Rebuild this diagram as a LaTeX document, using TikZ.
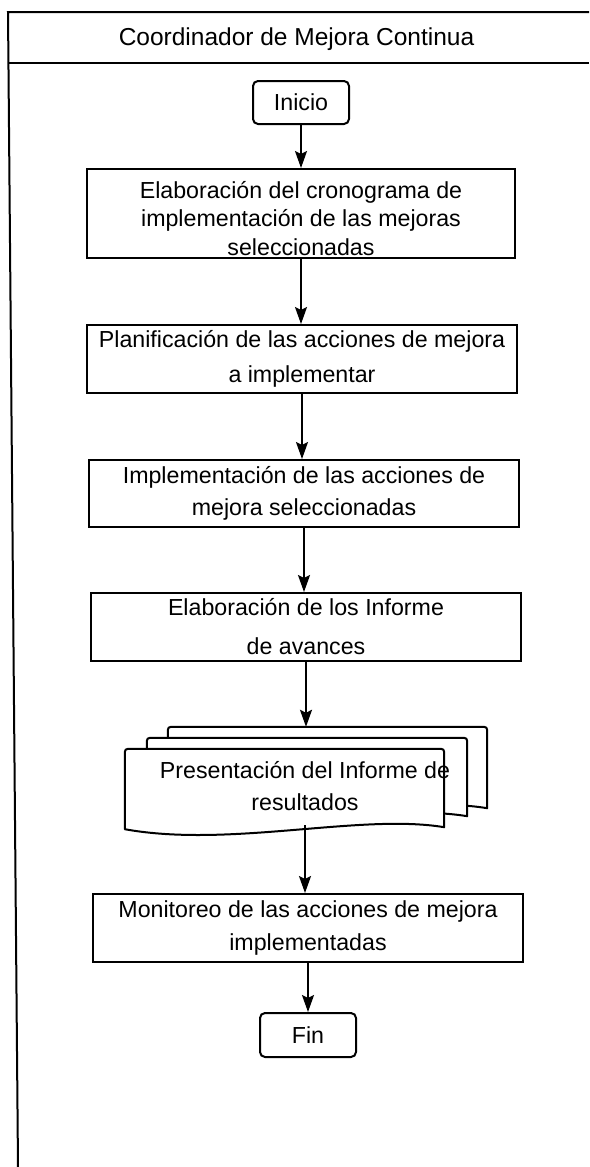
\documentclass[tikz,border=0pt]{standalone}
\usepackage{fontspec}
\setmainfont{Liberation Sans}
\usetikzlibrary{arrows.meta,calc}
\newcommand\docpage[1]{%
 \draw[page] ($(#1.south west)+(0,2)$) -- ($(#1.north west)+(0,7)$)
   .. controls (#1.north west) .. ($(#1.north west)+(7,0)$)
   -- ($(#1.north east)+(-7,0)$)
   .. controls (#1.north east) .. ($(#1.north east)+(0,7)$)
   -- (#1.south east)
   .. controls ($(#1.south east)+(-84,-14)$) and ($(#1.south west)+(105,21)$) .. ($(#1.south west)+(0,2)$)
   -- cycle;}
\begin{document}
\begin{tikzpicture}[x=1pt,y=-1pt,
  txt/.style={font=\fontsize{23.2}{28.5}\selectfont, align=center},
  box/.style={txt, draw, line width=2pt, inner sep=0pt},
  term/.style={box, rounded corners=5pt},
  arr/.style={line width=2pt, -{Stealth[length=17pt,width=12pt,inset=3pt]}},
  frame/.style={line width=2pt},
  page/.style={line width=2pt, fill=white, line join=round},
  pagebox/.style={inner sep=0pt, minimum width=#1}
]
\useasboundingbox (0,0) rectangle (589,1167);
% frame
\coordinate (ftl) at (8,12);
\coordinate (ftr) at (589,12);
\coordinate (fhl) at (8,63);
\coordinate (fhr) at (589,63);
\coordinate (fbl) at (18,1167);
\draw[frame] (ftr) -- (ftl) -- (fbl);
\draw[frame] (fhl) -- (fhr);
\node[font=\fontsize{24.5}{29}\selectfont] (title) at (296.5,39) {Coordinador de Mejora Continua};

% nodes
\node[term, minimum width=96pt, minimum height=43pt] (inicio) at (301,102.5) {Inicio};
\node[box, minimum width=428pt, minimum height=89pt] (b1) at (301,213.5)
  {\rule{0pt}{27pt}Elaboración del cronograma de\\implementación de las mejoras\\seleccionadas};
\node[box, minimum width=430pt, minimum height=68pt] (b2) at (302,359)
  {Planificación de las acciones de mejora\\[6pt]a implementar};
\node[box, minimum width=430pt, minimum height=67pt] (b3) at (304,493.5)
  {Implementación de las acciones de\\[3.5pt]mejora seleccionadas};
\node[box, minimum width=430pt, minimum height=68pt] (b4) at (306,627)
  {Elaboración de los Informe\\[10.5pt]de avances};

% multi-document
\node[pagebox=319pt, minimum height=81pt] (pback) at (327.5,767.5) {};
\node[pagebox=320pt, minimum height=78pt] (pmid) at (307,777) {};
\node[pagebox=319pt, minimum height=78pt] (pfront) at (284.5,788) {};
\docpage{pback}
\docpage{pmid}
\docpage{pfront}
\node[txt] (doctext) at (305,786) {Presentación del Informe de\\[3pt]resultados};
\coordinate (docout) at (305,825);

\node[box, minimum width=430pt, minimum height=68pt] (b5) at (308,928)
  {Monitoreo de las acciones de mejora\\[4.5pt]implementadas};
\node[term, minimum width=96pt, minimum height=44pt] (fin) at (308,1035) {Fin};

% connectors
\draw[arr] (inicio.south) -- (inicio.south |- b1.north);
\draw[arr] (b1.south) -- (b1.south |- b2.north);
\draw[arr] (b2.south) -- (b2.south |- b3.north);
\draw[arr] (b3.south) -- (b3.south |- b4.north);
\draw[arr] (b4.south) -- (b4.south |- pback.north);
\draw[arr] (docout) -- (docout |- b5.north);
\draw[arr] (b5.south) -- (b5.south |- fin.north);
\end{tikzpicture}
\end{document}
